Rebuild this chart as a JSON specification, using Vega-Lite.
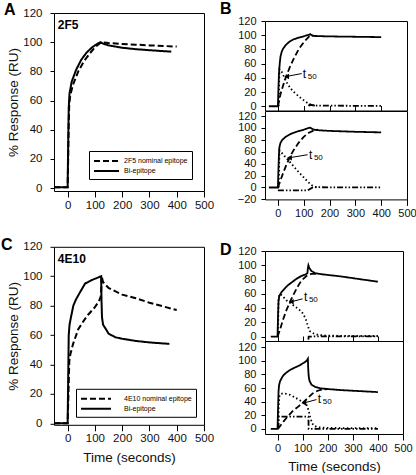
{
  "$schema": "https://vega.github.io/schema/vega-lite/v6.json",
  "padding": {"left": 0, "top": 0, "right": 0, "bottom": 0},
  "config": {
    "font": "Liberation Sans",
    "view": {"stroke": "black", "strokeWidth": 1},
    "axis": {"domain": false, "grid": false, "tickColor": "black", "tickWidth": 1, "labelColor": "#111", "titleColor": "#111", "titleFontWeight": "normal", "labelFontSize": 11, "titleFontSize": 13.5, "labelFont": "Liberation Sans", "titleFont": "Liberation Sans", "labelOverlap": false, "labelFlush": false, "labelBound": false},
    "title": {"fontSize": 16, "fontWeight": "bold", "anchor": "start", "frame": "group", "color": "black", "baseline": "alphabetic", "font": "Liberation Sans"},
    "legend": {"labelColor": "black", "labelFont": "Liberation Sans"},
    "text": {"color": "black"}
  },
  "resolve": {"scale": {"strokeDash": "independent"}, "legend": {"strokeDash": "independent"}},
  "bounds": "full",
  "spacing": 4,
  "hconcat": [
    {
      "bounds": "flush",
      "spacing": 55.8,
      "resolve": {"scale": {"strokeDash": "independent"}, "legend": {"strokeDash": "independent"}},
      "vconcat": [
        {
          "width": 150, "height": 178,
          "title": {"text": "A", "dx": -50, "offset": -11},
          "layer": [
            {
              "data": {"name": "A"},
              "mark": {"type": "line", "color": "black", "strokeWidth": 2},
              "encoding": {
                "x": {"field": "t", "type": "quantitative", "scale": {"domain": [-50, 500], "nice": false, "zero": false}, "axis": {"values": [0, 100, 200, 300, 400, 500], "tickCount": 20, "labelOverlap": false, "labelFlush": false, "title": null, "tickSize": 6, "labelPadding": 2, "labelFontSize": 11.5}},
                "y": {"field": "r", "type": "quantitative", "scale": {"domain": [-2, 120], "nice": false, "zero": false}, "axis": {"values": [0, 20, 40, 60, 80, 100, 120], "tickCount": 20, "labelOverlap": false, "labelFlush": false, "title": "% Response (RU)", "tickSize": 4, "labelPadding": 8, "labelFontSize": 11.5, "titlePadding": 2}},
                "strokeDash": {"field": "s", "type": "nominal", "scale": {"domain": ["2F5 nominal epitope", "Bi-epitope"], "range": [[6, 3], [1, 0]]}, "legend": {"title": null, "orient": "bottom-right", "offset": 12, "strokeColor": "black", "fillColor": "white", "padding": 4, "symbolType": "M-1,0H4", "symbolSize": 100, "symbolStrokeWidth": 2, "symbolStrokeColor": "black", "labelFontSize": 7, "labelOffset": 19, "rowPadding": -2}}
              }
            },
            {
              "data": {"name": "labels"},
              "transform": [{"filter": "datum.panel == 'A'"}],
              "mark": {"type": "text", "align": "left", "baseline": "middle", "fontWeight": "bold", "fontSize": 12},
              "encoding": {
                "x": {"field": "t", "type": "quantitative"},
                "y": {"field": "r", "type": "quantitative"},
                "text": {"field": "label"}
              }
            }
          ]
        },
        {
          "width": 150, "height": 178,
          "title": {"text": "C", "dx": -53, "offset": -12.2},
          "layer": [
            {
              "data": {"name": "C"},
              "mark": {"type": "line", "color": "black", "strokeWidth": 2},
              "encoding": {
                "x": {"field": "t", "type": "quantitative", "scale": {"domain": [-50, 500], "nice": false, "zero": false}, "axis": {"values": [0, 100, 200, 300, 400, 500], "tickCount": 20, "labelOverlap": false, "labelFlush": false, "title": "Time (seconds)", "tickSize": 6, "labelPadding": 2, "labelFontSize": 11.5, "titlePadding": 6}},
                "y": {"field": "r", "type": "quantitative", "scale": {"domain": [-1, 120], "nice": false, "zero": false}, "axis": {"values": [0, 20, 40, 60, 80, 100, 120], "tickCount": 20, "labelOverlap": false, "labelFlush": false, "title": "% Response (RU)", "tickSize": 4, "labelPadding": 8, "labelFontSize": 11.5, "titlePadding": 2}},
                "strokeDash": {"field": "s", "type": "nominal", "scale": {"domain": ["4E10 nominal epitope", "Bi-epitope"], "range": [[6, 3], [1, 0]]}, "legend": {"title": null, "orient": "bottom-right", "offset": 8.5, "strokeColor": "black", "fillColor": "white", "padding": 4, "symbolType": "M-1,0H5", "symbolSize": 100, "symbolStrokeWidth": 2, "symbolStrokeColor": "black", "labelFontSize": 7, "labelOffset": 32, "rowPadding": -2}}
              }
            },
            {
              "data": {"name": "labels"},
              "transform": [{"filter": "datum.panel == 'C'"}],
              "mark": {"type": "text", "align": "left", "baseline": "middle", "fontWeight": "bold", "fontSize": 12},
              "encoding": {
                "x": {"field": "t", "type": "quantitative"},
                "y": {"field": "r", "type": "quantitative"},
                "text": {"field": "label"}
              }
            }
          ]
        }
      ]
    },
    {
      "bounds": "flush",
      "spacing": 0,
      "resolve": {"scale": {"strokeDash": "independent"}, "legend": {"strokeDash": "independent"}},
      "vconcat": [
        {"width": 142, "height": 7.3, "data": {"values": []}, "mark": "point", "view": {"stroke": null}},
        {
          "width": 142, "height": 89.5,
          "title": {"text": "B", "dx": -45, "offset": -1.7},
          "layer": [
            {
              "data": {"name": "B1"},
              "mark": {"type": "line", "color": "black", "strokeWidth": 1.8},
              "encoding": {
                "x": {"field": "t", "type": "quantitative", "scale": {"domain": [-50, 500], "nice": false, "zero": false}, "axis": {"values": [0, 100, 200, 300, 400, 500], "tickCount": 20, "labelOverlap": false, "title": null, "labels": false, "tickSize": -5}},
                "y": {"field": "r", "type": "quantitative", "scale": {"domain": [-6, 120], "nice": false, "zero": false}, "axis": {"values": [0, 20, 40, 60, 80, 100, 120], "tickCount": 20, "labelOverlap": false, "labelFlush": false, "title": null, "tickSize": 4, "labelPadding": 5}},
                "strokeDash": {"field": "s", "type": "nominal", "scale": {"domain": ["Bi-epitope", "Nominal epitope", "Fast phase", "Slow phase"], "range": [[1, 0], [6, 3], [1.5, 2.5], [6, 2, 1.5, 2, 1.5, 2]]}, "legend": null}
              }
            },
            {
              "data": {"name": "ann"},
              "transform": [{"filter": "datum.panel == 'B1'"}],
              "layer": [
                {"mark": {"type": "rule", "color": "black", "strokeWidth": 1}, "encoding": {"x": {"field": "t", "type": "quantitative"}, "y": {"field": "r", "type": "quantitative"}, "x2": {"field": "t2"}, "y2": {"field": "r2"}}},
                {"mark": {"type": "point", "shape": "triangle-left", "filled": true, "color": "black", "size": 30, "opacity": 1}, "encoding": {"x": {"field": "t2", "type": "quantitative"}, "y": {"field": "r2", "type": "quantitative"}}},
                {"mark": {"type": "text", "align": "left", "baseline": "middle", "fontSize": 12}, "encoding": {"x": {"field": "lt", "type": "quantitative"}, "y": {"field": "lr", "type": "quantitative"}, "text": {"field": "main"}}},
                {"mark": {"type": "text", "align": "left", "baseline": "middle", "fontSize": 8, "dx": 5, "dy": 3}, "encoding": {"x": {"field": "lt", "type": "quantitative"}, "y": {"field": "lr", "type": "quantitative"}, "text": {"field": "sub"}}}
              ]
            }
          ]
        },
        {
          "width": 142, "height": 88.4,
          "layer": [
            {
              "data": {"name": "B2"},
              "mark": {"type": "line", "color": "black", "strokeWidth": 1.8},
              "encoding": {
                "x": {"field": "t", "type": "quantitative", "scale": {"domain": [-50, 500], "nice": false, "zero": false}, "axis": {"values": [0, 100, 200, 300, 400, 500], "tickCount": 20, "labelOverlap": false, "labelFlush": false, "title": null, "tickSize": 6, "labelPadding": 2}},
                "y": {"field": "r", "type": "quantitative", "scale": {"domain": [-20, 128.4], "nice": false, "zero": false}, "axis": {"values": [-20, 0, 20, 40, 60, 80, 100, 120], "tickCount": 20, "labelOverlap": false, "labelFlush": false, "title": null, "tickSize": 4, "labelPadding": 5}},
                "strokeDash": {"field": "s", "type": "nominal", "scale": {"domain": ["Bi-epitope", "Nominal epitope", "Fast phase", "Slow phase"], "range": [[1, 0], [6, 3], [1.5, 2.5], [6, 2, 1.5, 2, 1.5, 2]]}, "legend": null}
              }
            },
            {
              "data": {"name": "ann"},
              "transform": [{"filter": "datum.panel == 'B2'"}],
              "layer": [
                {"mark": {"type": "rule", "color": "black", "strokeWidth": 1}, "encoding": {"x": {"field": "t", "type": "quantitative"}, "y": {"field": "r", "type": "quantitative"}, "x2": {"field": "t2"}, "y2": {"field": "r2"}}},
                {"mark": {"type": "point", "shape": "triangle-left", "filled": true, "color": "black", "size": 30, "opacity": 1}, "encoding": {"x": {"field": "t2", "type": "quantitative"}, "y": {"field": "r2", "type": "quantitative"}}},
                {"mark": {"type": "text", "align": "left", "baseline": "middle", "fontSize": 12}, "encoding": {"x": {"field": "lt", "type": "quantitative"}, "y": {"field": "lr", "type": "quantitative"}, "text": {"field": "main"}}},
                {"mark": {"type": "text", "align": "left", "baseline": "middle", "fontSize": 8, "dx": 5, "dy": 3}, "encoding": {"x": {"field": "lt", "type": "quantitative"}, "y": {"field": "lr", "type": "quantitative"}, "text": {"field": "sub"}}}
              ]
            }
          ]
        },
        {"width": 142, "height": 50.3, "data": {"values": []}, "mark": "point", "view": {"stroke": null}},
        {
          "width": 138, "height": 90,
          "title": {"text": "D", "dx": -45, "offset": -12.5},
          "layer": [
            {
              "data": {"name": "D1"},
              "mark": {"type": "line", "color": "black", "strokeWidth": 1.8},
              "encoding": {
                "x": {"field": "t", "type": "quantitative", "scale": {"domain": [-50, 500], "nice": false, "zero": false}, "axis": {"values": [0, 100, 200, 300, 400, 500], "tickCount": 20, "labelOverlap": false, "title": null, "labels": false, "tickSize": -5}},
                "y": {"field": "r", "type": "quantitative", "scale": {"domain": [-6, 120], "nice": false, "zero": false}, "axis": {"values": [0, 20, 40, 60, 80, 100, 120], "tickCount": 20, "labelOverlap": false, "labelFlush": false, "title": null, "tickSize": 4, "labelPadding": 5}},
                "strokeDash": {"field": "s", "type": "nominal", "scale": {"domain": ["Bi-epitope", "Nominal epitope", "Fast phase", "Slow phase"], "range": [[1, 0], [6, 3], [1.5, 2.5], [6, 2, 1.5, 2, 1.5, 2]]}, "legend": null}
              }
            },
            {
              "data": {"name": "ann"},
              "transform": [{"filter": "datum.panel == 'D1'"}],
              "layer": [
                {"mark": {"type": "rule", "color": "black", "strokeWidth": 1}, "encoding": {"x": {"field": "t", "type": "quantitative"}, "y": {"field": "r", "type": "quantitative"}, "x2": {"field": "t2"}, "y2": {"field": "r2"}}},
                {"mark": {"type": "point", "shape": "triangle-left", "filled": true, "color": "black", "size": 30, "opacity": 1}, "encoding": {"x": {"field": "t2", "type": "quantitative"}, "y": {"field": "r2", "type": "quantitative"}}},
                {"mark": {"type": "text", "align": "left", "baseline": "middle", "fontSize": 12}, "encoding": {"x": {"field": "lt", "type": "quantitative"}, "y": {"field": "lr", "type": "quantitative"}, "text": {"field": "main"}}},
                {"mark": {"type": "text", "align": "left", "baseline": "middle", "fontSize": 8, "dx": 5, "dy": 3}, "encoding": {"x": {"field": "lt", "type": "quantitative"}, "y": {"field": "lr", "type": "quantitative"}, "text": {"field": "sub"}}}
              ]
            }
          ]
        },
        {
          "width": 138, "height": 93,
          "layer": [
            {
              "data": {"name": "D2"},
              "mark": {"type": "line", "color": "black", "strokeWidth": 1.8},
              "encoding": {
                "x": {"field": "t", "type": "quantitative", "scale": {"domain": [-50, 500], "nice": false, "zero": false}, "axis": {"values": [0, 100, 200, 300, 400, 500], "tickCount": 20, "labelOverlap": false, "labelFlush": false, "title": "Time (seconds)", "tickSize": 6, "labelPadding": 2, "titlePadding": 6}},
                "y": {"field": "r", "type": "quantitative", "scale": {"domain": [-7.5, 129], "nice": false, "zero": false}, "axis": {"values": [0, 20, 40, 60, 80, 100, 120], "tickCount": 20, "labelOverlap": false, "labelFlush": false, "title": null, "tickSize": 4, "labelPadding": 5}},
                "strokeDash": {"field": "s", "type": "nominal", "scale": {"domain": ["Bi-epitope", "Nominal epitope", "Fast phase", "Slow phase"], "range": [[1, 0], [6, 3], [1.5, 2.5], [6, 2, 1.5, 2, 1.5, 2]]}, "legend": null}
              }
            },
            {
              "data": {"name": "ann"},
              "transform": [{"filter": "datum.panel == 'D2'"}],
              "layer": [
                {"mark": {"type": "rule", "color": "black", "strokeWidth": 1}, "encoding": {"x": {"field": "t", "type": "quantitative"}, "y": {"field": "r", "type": "quantitative"}, "x2": {"field": "t2"}, "y2": {"field": "r2"}}},
                {"mark": {"type": "point", "shape": "triangle-left", "filled": true, "color": "black", "size": 30, "opacity": 1}, "encoding": {"x": {"field": "t2", "type": "quantitative"}, "y": {"field": "r2", "type": "quantitative"}}},
                {"mark": {"type": "text", "align": "left", "baseline": "middle", "fontSize": 12}, "encoding": {"x": {"field": "lt", "type": "quantitative"}, "y": {"field": "lr", "type": "quantitative"}, "text": {"field": "main"}}},
                {"mark": {"type": "text", "align": "left", "baseline": "middle", "fontSize": 8, "dx": 5, "dy": 3}, "encoding": {"x": {"field": "lt", "type": "quantitative"}, "y": {"field": "lr", "type": "quantitative"}, "text": {"field": "sub"}}}
              ]
            }
          ]
        }
      ]
    }
  ],
  "datasets": {
    "labels": [
      {"panel": "A", "label": "2F5", "t": -36, "r": 112},
      {"panel": "C", "label": "4E10", "t": -36, "r": 112}
    ],
    "ann": [
      {"panel": "B1", "t": 92, "r": 46, "t2": 34, "r2": 42, "lt": 96, "lr": 46, "main": "t", "sub": "50"},
      {"panel": "B2", "t": 115, "r": 55, "t2": 45, "r2": 50, "lt": 120, "lr": 55, "main": "t", "sub": "50"},
      {"panel": "D1", "t": 100, "r": 53, "t2": 55, "r2": 49, "lt": 105, "lr": 55, "main": "t", "sub": "50"},
      {"panel": "D2", "t": 155, "r": 43, "t2": 105, "r2": 38, "lt": 160, "lr": 44, "main": "t", "sub": "50"}
    ],
    "A": [
      {"t": -50, "r": 0.5, "s": "2F5 nominal epitope"}, {"t": 0, "r": 0.5, "s": "2F5 nominal epitope"}, {"t": 2, "r": 20, "s": "2F5 nominal epitope"}, {"t": 4, "r": 45, "s": "2F5 nominal epitope"}, {"t": 6, "r": 58, "s": "2F5 nominal epitope"}, {"t": 10, "r": 64, "s": "2F5 nominal epitope"}, {"t": 20, "r": 71, "s": "2F5 nominal epitope"}, {"t": 39, "r": 80, "s": "2F5 nominal epitope"}, {"t": 60, "r": 87, "s": "2F5 nominal epitope"}, {"t": 80, "r": 92, "s": "2F5 nominal epitope"}, {"t": 100, "r": 96.5, "s": "2F5 nominal epitope"}, {"t": 120, "r": 99.5, "s": "2F5 nominal epitope"}, {"t": 125, "r": 100, "s": "2F5 nominal epitope"}, {"t": 150, "r": 99.4, "s": "2F5 nominal epitope"}, {"t": 200, "r": 98.8, "s": "2F5 nominal epitope"}, {"t": 250, "r": 98.3, "s": "2F5 nominal epitope"}, {"t": 300, "r": 97.8, "s": "2F5 nominal epitope"}, {"t": 350, "r": 97.4, "s": "2F5 nominal epitope"}, {"t": 400, "r": 97, "s": "2F5 nominal epitope"},
      {"t": -50, "r": 0.5, "s": "Bi-epitope"}, {"t": 0, "r": 0.5, "s": "Bi-epitope"}, {"t": 2, "r": 30, "s": "Bi-epitope"}, {"t": 4, "r": 55, "s": "Bi-epitope"}, {"t": 7, "r": 65, "s": "Bi-epitope"}, {"t": 15, "r": 73, "s": "Bi-epitope"}, {"t": 31, "r": 81, "s": "Bi-epitope"}, {"t": 50, "r": 88, "s": "Bi-epitope"}, {"t": 70, "r": 93, "s": "Bi-epitope"}, {"t": 90, "r": 96.5, "s": "Bi-epitope"}, {"t": 110, "r": 99, "s": "Bi-epitope"}, {"t": 120, "r": 100, "s": "Bi-epitope"}, {"t": 130, "r": 99, "s": "Bi-epitope"}, {"t": 150, "r": 97.8, "s": "Bi-epitope"}, {"t": 200, "r": 96.2, "s": "Bi-epitope"}, {"t": 250, "r": 95.2, "s": "Bi-epitope"}, {"t": 300, "r": 94.5, "s": "Bi-epitope"}, {"t": 380, "r": 93.5, "s": "Bi-epitope"}
    ],
    "C": [
      {"t": -50, "r": 0, "s": "4E10 nominal epitope"}, {"t": 0, "r": 0, "s": "4E10 nominal epitope"}, {"t": 3, "r": 20, "s": "4E10 nominal epitope"}, {"t": 6, "r": 42, "s": "4E10 nominal epitope"}, {"t": 10, "r": 47, "s": "4E10 nominal epitope"}, {"t": 20, "r": 54, "s": "4E10 nominal epitope"}, {"t": 39, "r": 64, "s": "4E10 nominal epitope"}, {"t": 60, "r": 70, "s": "4E10 nominal epitope"}, {"t": 76, "r": 74, "s": "4E10 nominal epitope"}, {"t": 100, "r": 79, "s": "4E10 nominal epitope"}, {"t": 115, "r": 83, "s": "4E10 nominal epitope"}, {"t": 121, "r": 86, "s": "4E10 nominal epitope"}, {"t": 123, "r": 90, "s": "4E10 nominal epitope"}, {"t": 125, "r": 100, "s": "4E10 nominal epitope"}, {"t": 130, "r": 96, "s": "4E10 nominal epitope"}, {"t": 150, "r": 92, "s": "4E10 nominal epitope"}, {"t": 200, "r": 87.5, "s": "4E10 nominal epitope"}, {"t": 250, "r": 85, "s": "4E10 nominal epitope"}, {"t": 300, "r": 82, "s": "4E10 nominal epitope"}, {"t": 350, "r": 79.5, "s": "4E10 nominal epitope"}, {"t": 400, "r": 77, "s": "4E10 nominal epitope"},
      {"t": -50, "r": 0, "s": "Bi-epitope"}, {"t": 0, "r": 0, "s": "Bi-epitope"}, {"t": 2, "r": 30, "s": "Bi-epitope"}, {"t": 4, "r": 60, "s": "Bi-epitope"}, {"t": 7, "r": 67, "s": "Bi-epitope"}, {"t": 12, "r": 72, "s": "Bi-epitope"}, {"t": 21, "r": 80, "s": "Bi-epitope"}, {"t": 30, "r": 84, "s": "Bi-epitope"}, {"t": 45, "r": 89, "s": "Bi-epitope"}, {"t": 64, "r": 95, "s": "Bi-epitope"}, {"t": 90, "r": 97.5, "s": "Bi-epitope"}, {"t": 110, "r": 99, "s": "Bi-epitope"}, {"t": 123, "r": 100, "s": "Bi-epitope"}, {"t": 124, "r": 85, "s": "Bi-epitope"}, {"t": 126, "r": 72, "s": "Bi-epitope"}, {"t": 130, "r": 67, "s": "Bi-epitope"}, {"t": 137, "r": 65, "s": "Bi-epitope"}, {"t": 150, "r": 61, "s": "Bi-epitope"}, {"t": 175, "r": 58.5, "s": "Bi-epitope"}, {"t": 200, "r": 57.5, "s": "Bi-epitope"}, {"t": 250, "r": 56, "s": "Bi-epitope"}, {"t": 300, "r": 55, "s": "Bi-epitope"}, {"t": 373, "r": 54, "s": "Bi-epitope"}
    ],
    "B1": [
      {"t": -35, "r": 0, "s": "Bi-epitope"}, {"t": 0, "r": 0, "s": "Bi-epitope"}, {"t": 2, "r": 25, "s": "Bi-epitope"}, {"t": 4, "r": 45, "s": "Bi-epitope"}, {"t": 7, "r": 60, "s": "Bi-epitope"}, {"t": 10, "r": 70, "s": "Bi-epitope"}, {"t": 15, "r": 77, "s": "Bi-epitope"}, {"t": 20, "r": 81, "s": "Bi-epitope"}, {"t": 30, "r": 86, "s": "Bi-epitope"}, {"t": 45, "r": 91, "s": "Bi-epitope"}, {"t": 60, "r": 94, "s": "Bi-epitope"}, {"t": 80, "r": 96.5, "s": "Bi-epitope"}, {"t": 100, "r": 98.5, "s": "Bi-epitope"}, {"t": 120, "r": 100.5, "s": "Bi-epitope"}, {"t": 125, "r": 101.5, "s": "Bi-epitope"}, {"t": 130, "r": 100, "s": "Bi-epitope"}, {"t": 140, "r": 99, "s": "Bi-epitope"}, {"t": 160, "r": 98.7, "s": "Bi-epitope"}, {"t": 200, "r": 98.3, "s": "Bi-epitope"}, {"t": 300, "r": 97.8, "s": "Bi-epitope"}, {"t": 400, "r": 97.3, "s": "Bi-epitope"},
      {"t": 0, "r": 0, "s": "Nominal epitope"}, {"t": 5, "r": 8, "s": "Nominal epitope"}, {"t": 10, "r": 17, "s": "Nominal epitope"}, {"t": 20, "r": 29, "s": "Nominal epitope"}, {"t": 30, "r": 40, "s": "Nominal epitope"}, {"t": 45, "r": 54, "s": "Nominal epitope"}, {"t": 60, "r": 66, "s": "Nominal epitope"}, {"t": 80, "r": 80, "s": "Nominal epitope"}, {"t": 100, "r": 90, "s": "Nominal epitope"}, {"t": 115, "r": 96, "s": "Nominal epitope"}, {"t": 125, "r": 100, "s": "Nominal epitope"}, {"t": 135, "r": 99.5, "s": "Nominal epitope"}, {"t": 150, "r": 99, "s": "Nominal epitope"},
      {"t": 3, "r": 0, "s": "Fast phase"}, {"t": 6, "r": 52, "s": "Fast phase"}, {"t": 10, "r": 51, "s": "Fast phase"}, {"t": 17, "r": 47, "s": "Fast phase"}, {"t": 25, "r": 40, "s": "Fast phase"}, {"t": 35, "r": 33, "s": "Fast phase"}, {"t": 49, "r": 25, "s": "Fast phase"}, {"t": 65, "r": 19, "s": "Fast phase"}, {"t": 87, "r": 12, "s": "Fast phase"}, {"t": 105, "r": 7, "s": "Fast phase"}, {"t": 119, "r": 3.5, "s": "Fast phase"}, {"t": 135, "r": 1.5, "s": "Fast phase"}, {"t": 150, "r": 0.5, "s": "Fast phase"},
      {"t": 120, "r": 0, "s": "Slow phase"}, {"t": 122, "r": 2, "s": "Slow phase"}, {"t": 150, "r": 1, "s": "Slow phase"}, {"t": 200, "r": 0.8, "s": "Slow phase"}, {"t": 300, "r": 0.6, "s": "Slow phase"}, {"t": 400, "r": 0.5, "s": "Slow phase"}
    ],
    "B2": [
      {"t": -35, "r": 0, "s": "Bi-epitope"}, {"t": 0, "r": 0, "s": "Bi-epitope"}, {"t": 2, "r": 30, "s": "Bi-epitope"}, {"t": 4, "r": 55, "s": "Bi-epitope"}, {"t": 6, "r": 68, "s": "Bi-epitope"}, {"t": 10, "r": 75, "s": "Bi-epitope"}, {"t": 17, "r": 80, "s": "Bi-epitope"}, {"t": 30, "r": 85, "s": "Bi-epitope"}, {"t": 50, "r": 90, "s": "Bi-epitope"}, {"t": 75, "r": 94, "s": "Bi-epitope"}, {"t": 100, "r": 97, "s": "Bi-epitope"}, {"t": 120, "r": 100, "s": "Bi-epitope"}, {"t": 125, "r": 100.5, "s": "Bi-epitope"}, {"t": 130, "r": 99, "s": "Bi-epitope"}, {"t": 140, "r": 97, "s": "Bi-epitope"}, {"t": 160, "r": 96, "s": "Bi-epitope"}, {"t": 200, "r": 95, "s": "Bi-epitope"}, {"t": 300, "r": 93.5, "s": "Bi-epitope"}, {"t": 400, "r": 92.5, "s": "Bi-epitope"},
      {"t": 0, "r": 0, "s": "Nominal epitope"}, {"t": 10, "r": 12, "s": "Nominal epitope"}, {"t": 20, "r": 24, "s": "Nominal epitope"}, {"t": 30, "r": 35, "s": "Nominal epitope"}, {"t": 45, "r": 50, "s": "Nominal epitope"}, {"t": 60, "r": 62, "s": "Nominal epitope"}, {"t": 80, "r": 75, "s": "Nominal epitope"}, {"t": 100, "r": 85, "s": "Nominal epitope"}, {"t": 120, "r": 92, "s": "Nominal epitope"}, {"t": 140, "r": 96, "s": "Nominal epitope"}, {"t": 155, "r": 97, "s": "Nominal epitope"},
      {"t": 3, "r": 0, "s": "Fast phase"}, {"t": 6, "r": 62, "s": "Fast phase"}, {"t": 15, "r": 58, "s": "Fast phase"}, {"t": 25, "r": 53, "s": "Fast phase"}, {"t": 40, "r": 46, "s": "Fast phase"}, {"t": 60, "r": 36, "s": "Fast phase"}, {"t": 80, "r": 26, "s": "Fast phase"}, {"t": 100, "r": 17, "s": "Fast phase"}, {"t": 115, "r": 10, "s": "Fast phase"}, {"t": 130, "r": 4, "s": "Fast phase"}, {"t": 140, "r": 1.5, "s": "Fast phase"}, {"t": 150, "r": 0.5, "s": "Fast phase"},
      {"t": 0, "r": -5, "s": "Slow phase"}, {"t": 115, "r": -5, "s": "Slow phase"}, {"t": 135, "r": 0, "s": "Slow phase"}, {"t": 150, "r": 0.5, "s": "Slow phase"}, {"t": 200, "r": 0.3, "s": "Slow phase"}, {"t": 300, "r": 0.2, "s": "Slow phase"}, {"t": 400, "r": 0, "s": "Slow phase"}
    ],
    "D1": [
      {"t": -27, "r": 0, "s": "Bi-epitope"}, {"t": 0, "r": 0, "s": "Bi-epitope"}, {"t": 2, "r": 30, "s": "Bi-epitope"}, {"t": 4, "r": 50, "s": "Bi-epitope"}, {"t": 7, "r": 57, "s": "Bi-epitope"}, {"t": 15, "r": 62, "s": "Bi-epitope"}, {"t": 25, "r": 66, "s": "Bi-epitope"}, {"t": 41, "r": 72, "s": "Bi-epitope"}, {"t": 60, "r": 77, "s": "Bi-epitope"}, {"t": 75, "r": 81, "s": "Bi-epitope"}, {"t": 95, "r": 85, "s": "Bi-epitope"}, {"t": 110, "r": 87, "s": "Bi-epitope"}, {"t": 119, "r": 89, "s": "Bi-epitope"}, {"t": 121, "r": 96, "s": "Bi-epitope"}, {"t": 123, "r": 100, "s": "Bi-epitope"}, {"t": 127, "r": 96, "s": "Bi-epitope"}, {"t": 135, "r": 92, "s": "Bi-epitope"}, {"t": 150, "r": 89, "s": "Bi-epitope"}, {"t": 175, "r": 87.5, "s": "Bi-epitope"}, {"t": 200, "r": 86.5, "s": "Bi-epitope"}, {"t": 250, "r": 84.5, "s": "Bi-epitope"}, {"t": 300, "r": 82, "s": "Bi-epitope"}, {"t": 350, "r": 79.5, "s": "Bi-epitope"}, {"t": 400, "r": 77, "s": "Bi-epitope"},
      {"t": 0, "r": 0, "s": "Nominal epitope"}, {"t": 10, "r": 10, "s": "Nominal epitope"}, {"t": 20, "r": 22, "s": "Nominal epitope"}, {"t": 35, "r": 37, "s": "Nominal epitope"}, {"t": 50, "r": 49, "s": "Nominal epitope"}, {"t": 65, "r": 60, "s": "Nominal epitope"}, {"t": 80, "r": 70, "s": "Nominal epitope"}, {"t": 96, "r": 79, "s": "Nominal epitope"}, {"t": 115, "r": 85, "s": "Nominal epitope"}, {"t": 134, "r": 88, "s": "Nominal epitope"}, {"t": 160, "r": 88, "s": "Nominal epitope"},
      {"t": 2, "r": 0, "s": "Fast phase"}, {"t": 4, "r": 55, "s": "Fast phase"}, {"t": 10, "r": 60, "s": "Fast phase"}, {"t": 20, "r": 57, "s": "Fast phase"}, {"t": 35, "r": 51, "s": "Fast phase"}, {"t": 55, "r": 46, "s": "Fast phase"}, {"t": 75, "r": 41, "s": "Fast phase"}, {"t": 96, "r": 35, "s": "Fast phase"}, {"t": 105, "r": 30, "s": "Fast phase"}, {"t": 113, "r": 24, "s": "Fast phase"}, {"t": 120, "r": 16, "s": "Fast phase"}, {"t": 128, "r": 8, "s": "Fast phase"}, {"t": 144, "r": 4.5, "s": "Fast phase"}, {"t": 165, "r": 2.3, "s": "Fast phase"}, {"t": 200, "r": 1.5, "s": "Fast phase"}, {"t": 300, "r": 1, "s": "Fast phase"}, {"t": 400, "r": 1, "s": "Fast phase"},
      {"t": 123, "r": -4, "s": "Slow phase"}, {"t": 124, "r": 0, "s": "Slow phase"}, {"t": 150, "r": 0.5, "s": "Slow phase"}, {"t": 200, "r": 0.5, "s": "Slow phase"}, {"t": 300, "r": 0.5, "s": "Slow phase"}, {"t": 400, "r": 0.5, "s": "Slow phase"}
    ],
    "D2": [
      {"t": -27, "r": 0, "s": "Bi-epitope"}, {"t": 0, "r": 0, "s": "Bi-epitope"}, {"t": 2, "r": 30, "s": "Bi-epitope"}, {"t": 4, "r": 55, "s": "Bi-epitope"}, {"t": 6, "r": 64, "s": "Bi-epitope"}, {"t": 10, "r": 70, "s": "Bi-epitope"}, {"t": 20, "r": 77, "s": "Bi-epitope"}, {"t": 27, "r": 80, "s": "Bi-epitope"}, {"t": 40, "r": 84, "s": "Bi-epitope"}, {"t": 55, "r": 87.5, "s": "Bi-epitope"}, {"t": 75, "r": 91, "s": "Bi-epitope"}, {"t": 89, "r": 93.5, "s": "Bi-epitope"}, {"t": 105, "r": 97, "s": "Bi-epitope"}, {"t": 116, "r": 100, "s": "Bi-epitope"}, {"t": 121, "r": 103, "s": "Bi-epitope"}, {"t": 122, "r": 90, "s": "Bi-epitope"}, {"t": 124, "r": 78, "s": "Bi-epitope"}, {"t": 127, "r": 71, "s": "Bi-epitope"}, {"t": 135, "r": 65, "s": "Bi-epitope"}, {"t": 150, "r": 61.5, "s": "Bi-epitope"}, {"t": 170, "r": 59.5, "s": "Bi-epitope"}, {"t": 200, "r": 58.5, "s": "Bi-epitope"}, {"t": 250, "r": 57, "s": "Bi-epitope"}, {"t": 300, "r": 56, "s": "Bi-epitope"}, {"t": 350, "r": 55, "s": "Bi-epitope"}, {"t": 400, "r": 54, "s": "Bi-epitope"},
      {"t": 0, "r": 0, "s": "Nominal epitope"}, {"t": 10, "r": 4, "s": "Nominal epitope"}, {"t": 20, "r": 9, "s": "Nominal epitope"}, {"t": 40, "r": 18, "s": "Nominal epitope"}, {"t": 60, "r": 26, "s": "Nominal epitope"}, {"t": 80, "r": 32, "s": "Nominal epitope"}, {"t": 100, "r": 38, "s": "Nominal epitope"}, {"t": 120, "r": 45, "s": "Nominal epitope"}, {"t": 140, "r": 52, "s": "Nominal epitope"}, {"t": 160, "r": 56, "s": "Nominal epitope"}, {"t": 180, "r": 58, "s": "Nominal epitope"}, {"t": 200, "r": 58.5, "s": "Nominal epitope"},
      {"t": 2, "r": 0, "s": "Fast phase"}, {"t": 5, "r": 35, "s": "Fast phase"}, {"t": 8, "r": 50, "s": "Fast phase"}, {"t": 20, "r": 52, "s": "Fast phase"}, {"t": 35, "r": 51.5, "s": "Fast phase"}, {"t": 50, "r": 50, "s": "Fast phase"}, {"t": 70, "r": 46, "s": "Fast phase"}, {"t": 89, "r": 42, "s": "Fast phase"}, {"t": 105, "r": 39, "s": "Fast phase"}, {"t": 116, "r": 35, "s": "Fast phase"}, {"t": 123, "r": 28, "s": "Fast phase"}, {"t": 130, "r": 18, "s": "Fast phase"}, {"t": 137, "r": 9, "s": "Fast phase"}, {"t": 144, "r": 5, "s": "Fast phase"}, {"t": 158, "r": 2.5, "s": "Fast phase"}, {"t": 200, "r": 1.5, "s": "Fast phase"}, {"t": 300, "r": 1, "s": "Fast phase"}, {"t": 400, "r": 1, "s": "Fast phase"},
      {"t": 3, "r": 0, "s": "Slow phase"}, {"t": 5, "r": 18, "s": "Slow phase"}, {"t": 123, "r": 18, "s": "Slow phase"}, {"t": 124, "r": 0, "s": "Slow phase"}, {"t": 200, "r": 0, "s": "Slow phase"}, {"t": 300, "r": 0, "s": "Slow phase"}, {"t": 400, "r": 0, "s": "Slow phase"}
    ]
  }
}
